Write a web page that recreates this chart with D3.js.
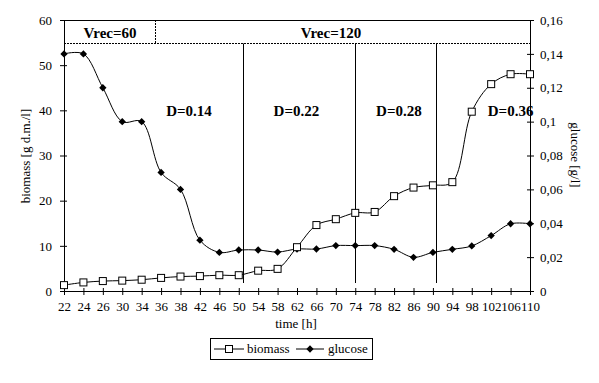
<!DOCTYPE html>
<html>
<head>
<meta charset="utf-8">
<script src="https://cdn.jsdelivr.net/npm/d3@7"></script>
<style>
  body { margin: 0; background: #fff; }
  text { font-family: "Liberation Serif", "Times New Roman", serif; fill: #000; }
</style>
</head>
<body>
<div id="chart"></div>
<script>
// categories (time [h]) - the axis is categorical, equally spaced
var times = ["22","24","26","30","34","36","38","42","46","50","54","58","62",
             "66","70","74","78","82","86","90","94","98","102","106","110"];
// biomass [g d.m./l] (left axis)
var biomass = [1.3,1.9,2.2,2.3,2.5,2.9,3.2,3.3,3.5,3.5,4.5,4.9,9.7,
               14.6,15.9,17.3,17.5,21.0,22.9,23.4,24.1,39.7,45.8,48.0,48.0];
// glucose [g/l] (right axis)
var glucose = [0.14,0.14,0.12,0.1,0.1,0.07,0.06,0.03,0.0228,0.0242,0.0242,0.023,0.0248,
               0.0248,0.0268,0.0268,0.0268,0.0246,0.0199,0.0228,0.0246,0.0266,0.0327,0.0397,0.0397];
var leftTicks = [0,10,20,30,40,50,60];
var rightTicks = [0,0.02,0.04,0.06,0.08,0.1,0.12,0.14,0.16];

// annotations, in category index units
var vrecSplit = 4.68;
var vrecLabels = [{t: 2.37, label: "Vrec=60"}, {t: 13.75, label: "Vrec=120"}];
var dBounds = [9.23, 15, 19.14];
var dLabels = [{t: 6.44, label: "D=0.14"}, {t: 11.97, label: "D=0.22"},
               {t: 17.25, label: "D=0.28"}, {t: 23.0, label: "D=0.36"}];

(function() {
  var W = 599, H = 383;
  var mLeft = 64, mRight = 530, mTop = 20, mBottom = 291;

  var svg = d3.select("#chart").append("svg")
      .attr("width", W).attr("height", H);

  var x = d3.scalePoint().domain(times).range([mLeft, mRight]);
  var xi = d3.scaleLinear().domain([0, times.length - 1]).range([mLeft, mRight]);
  var yL = d3.scaleLinear().domain([0, 60]).range([mBottom, mTop]);
  var yR = d3.scaleLinear().domain([0, 0.16]).range([mBottom, mTop]);

  // top border
  svg.append("line").attr("x1", mLeft).attr("x2", mRight).attr("y1", mTop + 0.5).attr("y2", mTop + 0.5)
      .attr("stroke", "#000");

  // Vrec dotted separators
  svg.append("line").attr("x1", mLeft).attr("x2", mRight)
      .attr("y1", 43.5).attr("y2", 43.5)
      .attr("stroke", "#000").attr("stroke-dasharray", "2,1");
  svg.append("line").attr("x1", Math.round(xi(vrecSplit)) + 0.5).attr("x2", Math.round(xi(vrecSplit)) + 0.5)
      .attr("y1", mTop).attr("y2", 43.5)
      .attr("stroke", "#000").attr("stroke-dasharray", "2,1");
  svg.selectAll(".vrec").data(vrecLabels).enter().append("text")
      .attr("x", function(d) { return xi(d.t); })
      .attr("y", 38)
      .attr("text-anchor", "middle")
      .attr("font-size", "15px").attr("font-weight", "bold")
      .text(function(d) { return d.label; });

  // D boundaries
  svg.selectAll(".dline").data(dBounds).enter().append("line")
      .attr("x1", function(d) { return Math.round(xi(d)) + 0.5; })
      .attr("x2", function(d) { return Math.round(xi(d)) + 0.5; })
      .attr("y1", 43.5).attr("y2", 283)
      .attr("stroke", "#000");
  svg.selectAll(".dlab").data(dLabels).enter().append("text")
      .attr("x", function(d) { return xi(d.t); })
      .attr("y", 116)
      .attr("text-anchor", "middle")
      .attr("font-size", "15px").attr("font-weight", "bold")
      .text(function(d) { return d.label; });

  // axes
  var gx = svg.append("g").attr("transform", "translate(0," + mBottom + ")")
      .call(d3.axisBottom(x).tickSize(4).tickPadding(7));
  gx.selectAll(".tick line").attr("y1", -3);

  var gl = svg.append("g").attr("transform", "translate(" + mLeft + ",0)")
      .call(d3.axisLeft(yL).tickValues(leftTicks).tickSize(4).tickPadding(8));
  gl.selectAll(".tick line").attr("x1", 3);

  var gr = svg.append("g").attr("transform", "translate(" + mRight + ",0)")
      .call(d3.axisRight(yR).tickValues(rightTicks).tickSize(4).tickPadding(6)
        .tickFormat(function(d) { return String(+d.toFixed(2)).replace(".", ","); }));
  gr.selectAll(".tick line").attr("x1", -3);

  svg.selectAll(".domain").attr("stroke", "#000");
  svg.selectAll(".tick line").attr("stroke", "#000");
  svg.selectAll(".tick text").attr("font-family", "Liberation Serif")
      .attr("font-size", "13px").attr("fill", "#000");

  // axis titles
  svg.append("text").attr("transform", "translate(30,156) rotate(-90)")
      .attr("text-anchor", "middle").attr("font-size", "13px")
      .text("biomass [g d.m./l]");
  svg.append("text").attr("transform", "translate(571,155) rotate(90)")
      .attr("text-anchor", "middle").attr("font-size", "13px")
      .text("glucose [g/l]");
  svg.append("text").attr("x", 296).attr("y", 328)
      .attr("text-anchor", "middle").attr("font-size", "13px")
      .text("time [h]");

  // series
  var lineL = d3.line().curve(d3.curveCatmullRom.alpha(0.5))
      .x(function(d, i) { return x(times[i]); })
      .y(function(d) { return yL(d); });
  var lineR = d3.line().curve(d3.curveCatmullRom.alpha(0.5))
      .x(function(d, i) { return x(times[i]); })
      .y(function(d) { return yR(d); });

  svg.append("path").attr("d", lineR(glucose))
      .attr("fill", "none").attr("stroke", "#000").attr("stroke-width", 1);
  svg.append("path").attr("d", lineL(biomass))
      .attr("fill", "none").attr("stroke", "#000").attr("stroke-width", 1);

  var diamond = d3.symbol().type(d3.symbolDiamond2).size(34);
  svg.selectAll(".gl").data(glucose).enter().append("path")
      .attr("d", diamond)
      .attr("transform", function(d, i) { return "translate(" + x(times[i]) + "," + yR(d) + ")"; })
      .attr("fill", "#000");

  svg.selectAll(".bm").data(biomass).enter().append("rect")
      .attr("x", function(d, i) { return x(times[i]) - 3.5; })
      .attr("y", function(d) { return yL(d) - 3.5; })
      .attr("width", 7).attr("height", 7)
      .attr("fill", "#fff").attr("stroke", "#000");

  // legend
  var lg = svg.append("g");
  lg.append("rect").attr("x", 210.5).attr("y", 338.5).attr("width", 162).attr("height", 21)
      .attr("fill", "#fff").attr("stroke", "#000");
  lg.append("line").attr("x1", 214).attr("x2", 244).attr("y1", 349).attr("y2", 349).attr("stroke", "#000");
  lg.append("rect").attr("x", 225.5).attr("y", 345.5).attr("width", 7).attr("height", 7)
      .attr("fill", "#fff").attr("stroke", "#000");
  lg.append("text").attr("x", 247).attr("y", 353).attr("font-size", "13px").text("biomass");
  lg.append("line").attr("x1", 296).attr("x2", 324).attr("y1", 349).attr("y2", 349).attr("stroke", "#000");
  lg.append("path").attr("d", diamond).attr("transform", "translate(310,349)").attr("fill", "#000");
  lg.append("text").attr("x", 328).attr("y", 353).attr("font-size", "13px").text("glucose");
})();
</script>
</body>
</html>
